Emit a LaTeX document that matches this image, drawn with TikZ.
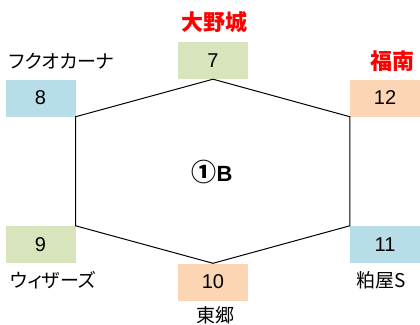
\documentclass[tikz,border=0pt]{standalone}
\usepackage{fontspec}
\setmainfont{Liberation Sans}
\newfontfamily\jpfont[RawFeature=+palt]{Noto Sans CJK JP}
\definecolor{boxblue}{RGB}{183,222,232}
\definecolor{boxgreen}{RGB}{215,228,188}
\definecolor{boxpeach}{RGB}{252,213,181}
\tikzset{
  teambox/.style={minimum width=70pt, minimum height=37pt, inner sep=0pt, font=\fontsize{20}{20}\selectfont},
  teamname/.style={inner sep=0pt, font=\jpfont\fontsize{19}{19}\selectfont},
  hostname/.style={inner sep=0pt, text=red, font=\jpfont\bfseries\fontsize{22}{22}\selectfont}
}
\begin{document}
\begin{tikzpicture}[x=1pt, y=-1pt]
		\useasboundingbox (0,0) rectangle (420,324);
		
		% Boxes
		\node[teambox, fill=boxgreen] (b7) at (213,60.5) {7};
		\node[teambox, fill=boxblue] (b8) at (40.5,98) {8};
		\node[teambox, fill=boxpeach] (b12) at (385,98) {12};
		\node[teambox, fill=boxgreen] (b9) at (40.5,244.5) {9};
		\node[teambox, fill=boxpeach] (b10) at (213,282) {10};
		\node[teambox, fill=boxblue] (b11) at (385,244.5) {11};
		
		% Names
		\node[hostname] (n7) at (214,22) {大野城};
		\node[teamname, anchor=west] (n8) at (9,61) {フクオカーナ};
		\node[hostname] (n12) at (392,61) {福南};
		\node[teamname, anchor=west] (n9) at (10,280) {ウィザーズ};
		\node[teamname] (n10) at (215,315) {東郷};
		\node[teamname, anchor=west] (n11) at (356,280) {粕屋S};
		
		% Hexagon
		\draw[line width=1pt] (b7.south) -- (b12.south west) -- (b11.north west) -- (b10.north) -- (b9.north east) -- (b8.south east) -- cycle;
		\node[inner sep=0pt, font=\bfseries\fontsize{22}{22}\selectfont] (grp) at (212,172) {{\jpfont\fontsize{25}{25}\selectfont ①}B};
	\end{tikzpicture}
\end{document}
